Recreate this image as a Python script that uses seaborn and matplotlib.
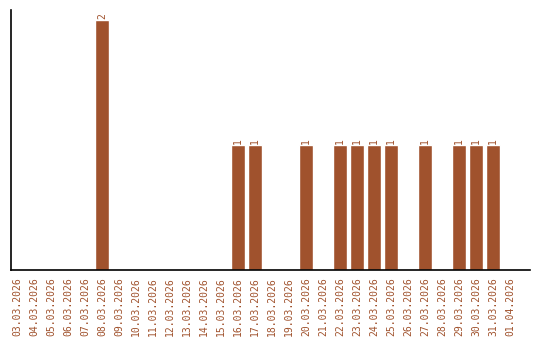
import matplotlib
matplotlib.use("Agg")
import matplotlib.pyplot as plt
import seaborn as sns
import pandas as pd

dates = ["03.03.2026", "04.03.2026", "05.03.2026", "06.03.2026", "07.03.2026",
         "08.03.2026", "09.03.2026", "10.03.2026", "11.03.2026", "12.03.2026",
         "13.03.2026", "14.03.2026", "15.03.2026", "16.03.2026", "17.03.2026",
         "18.03.2026", "19.03.2026", "20.03.2026", "21.03.2026", "22.03.2026",
         "23.03.2026", "24.03.2026", "25.03.2026", "26.03.2026", "27.03.2026",
         "28.03.2026", "29.03.2026", "30.03.2026", "31.03.2026", "01.04.2026"]
counts = [0, 0, 0, 0, 0, 2, 0, 0, 0, 0, 0, 0, 0, 1, 1,
          0, 0, 1, 0, 1, 1, 1, 1, 0, 1, 0, 1, 1, 1, 0]

color = "#A0522D"
sns.set_style("white")
plt.rcParams["font.family"] = ["DejaVu Sans Mono", "DejaVu Sans"]

df = pd.DataFrame({"date": dates, "count": counts})
fig = plt.figure(figsize=(5.4, 3.4), dpi=100)
ax = fig.add_axes([11/540, 1 - 270/340, (530 - 11)/540, 260/340])
sns.barplot(data=df, x="date", y="count", order=dates, color=color,
            saturation=1, width=0.82, ax=ax)
ax.bar_label(ax.containers[0], labels=[str(v) if v else "" for v in counts],
             rotation=90, padding=1, color=color, fontsize=7)
ax.set_xlim(-0.35, 30.18)
ax.set_ylim(0, 2.08)
ax.set_yticks([])
ax.set_xlabel("")
ax.set_ylabel("")
ax.tick_params(axis="x", length=0, pad=5, labelsize=7, labelcolor=color, rotation=90)
for s in ["top", "right"]:
    ax.spines[s].set_visible(False)
for s in ["left", "bottom"]:
    ax.spines[s].set_color("black")
    ax.spines[s].set_linewidth(1.2)
fig.savefig("out.png", dpi=100)
